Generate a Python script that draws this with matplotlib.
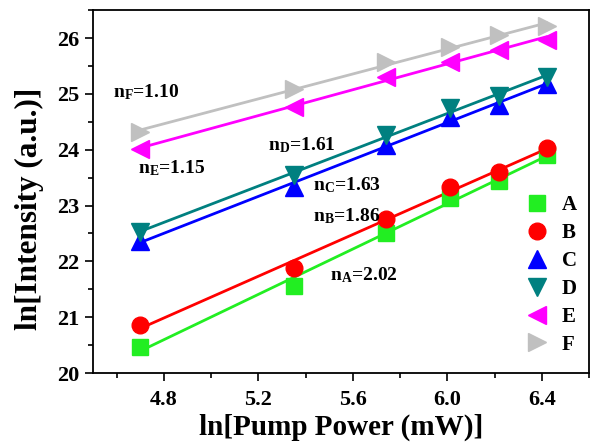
import numpy as np
import matplotlib
matplotlib.use("Agg")
import matplotlib.pyplot as plt
from matplotlib.ticker import MultipleLocator

plt.rcParams['font.family'] = ['Liberation Serif', 'DejaVu Serif']
plt.rcParams['font.weight'] = 'bold'
plt.rcParams['mathtext.fontset'] = 'custom'
plt.rcParams['mathtext.rm'] = 'Liberation Serif:bold'
plt.rcParams['mathtext.bf'] = 'Liberation Serif:bold'
plt.rcParams['mathtext.it'] = 'Liberation Serif:bold'

# data
x = [4.70, 5.35, 5.74, 6.01, 6.22, 6.42]
series_names = ['A', 'B', 'C', 'D', 'E', 'F']
A = [20.47, 21.56, 22.51, 23.14, 23.44, 23.91]
B = [20.86, 21.88, 22.76, 23.33, 23.60, 24.03]
C = [22.36, 23.33, 24.09, 24.59, 24.80, 25.17]
D = [22.53, 23.55, 24.27, 24.75, 24.96, 25.30]
E = [24.01, 24.77, 25.30, 25.58, 25.79, 25.97]
F = [24.32, 25.08, 25.58, 25.84, 26.05, 26.21]
slope_labels = ['2.02', '1.86', '1.63', '1.61', '1.15', '1.10']
label_pos = [(5.505, 21.76), (5.43, 22.81), (5.43, 23.37), (5.24, 24.09), (4.69, 23.67), (4.585, 25.04)]
xtick_labels = ['4.8', '5.2', '5.6', '6.0', '6.4']

ys = [A, B, C, D, E, F]
colors = ['#22ee22', '#ff0000', '#0000ff', '#008080', '#ff00ff', '#c0c0c0']
markers = ['s', 'o', '^', 'v', '<', '>']
msizes = [11, 12, 12.5, 12.5, 12.5, 12.5]

fig = plt.figure(figsize=(5.92, 4.43), dpi=100)
ax = fig.add_axes([0.157, 0.158, 0.838, 0.819])

xa = np.array(x)
for name, y, c, m, ms in zip(series_names, ys, colors, markers, msizes):
    p = np.polyfit(xa, np.array(y), 1)
    ax.plot(xa, np.polyval(p, xa), '-', color=c, lw=2.0, zorder=2)
    ax.plot(xa, y, linestyle='none', marker=m, color=c, ms=ms, mec=c, zorder=3, label=name)

for name, s, (tx, ty) in zip(series_names, slope_labels, label_pos):
    ax.text(tx, ty, r'n$_{\mathbf{%s}}$=%s' % (name, s), fontsize=14, fontweight='bold',
            ha='left', va='center')

ax.set_xlim(4.5, 6.6)
ax.set_ylim(20, 26.5)
ax.xaxis.set_minor_locator(MultipleLocator(0.2))
ax.yaxis.set_major_locator(MultipleLocator(1))
ax.yaxis.set_minor_locator(MultipleLocator(0.5))
ax.set_xticks([float(t) for t in xtick_labels])
ax.set_xticklabels(xtick_labels)
ax.tick_params(which='both', direction='out', top=False, right=False, width=1.2)
ax.tick_params(which='major', length=6, labelsize=16)
ax.tick_params(axis='x', which='major', pad=6)
ax.tick_params(which='minor', length=3.5)
for lab in ax.get_xticklabels() + ax.get_yticklabels():
    lab.set_fontweight('bold')
for sp in ax.spines.values():
    sp.set_linewidth(1.3)

ax.set_xlabel('ln[Pump Power (mW)]', fontsize=21, fontweight='bold')
ax.set_ylabel('ln[Intensity (a.u.)]', fontsize=22.5, fontweight='bold')
ax.xaxis.label.set_va('center')
ax.xaxis.set_label_coords(0.5, -0.149)
ax.yaxis.label.set_va('center')
ax.yaxis.set_label_coords(-0.127, 0.452)

leg = ax.legend(loc='lower right', frameon=False, fontsize=15, handletextpad=0.6,
                labelspacing=0.38, borderaxespad=0.6, handlelength=1.2,
                bbox_to_anchor=(1.018, -0.007))
for t in leg.get_texts():
    t.set_fontweight('bold')

fig.savefig('out.png', dpi=100)
